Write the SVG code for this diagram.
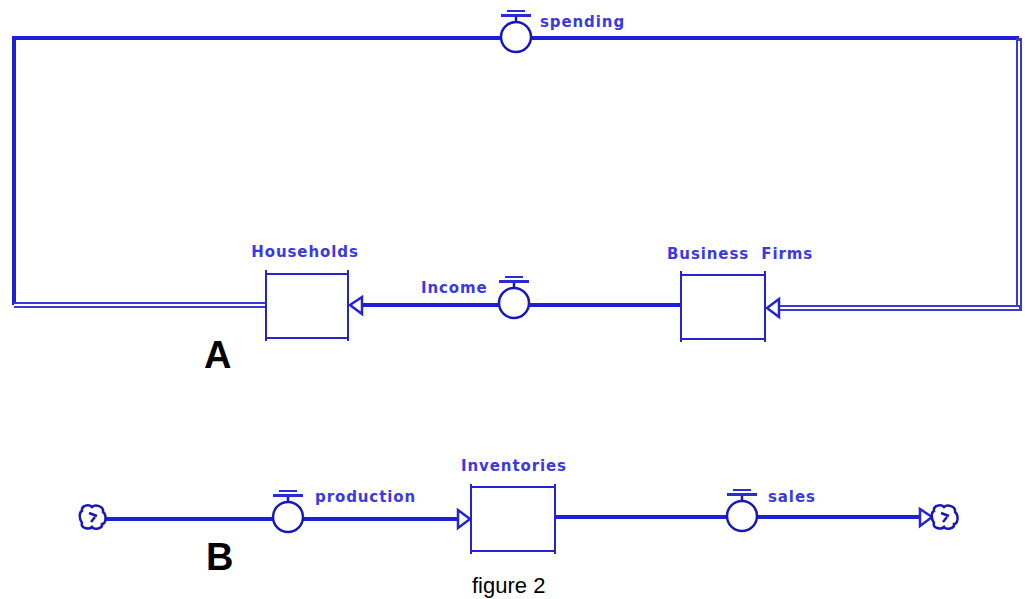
<svg xmlns="http://www.w3.org/2000/svg" width="1025" height="599" viewBox="0 0 1025 599">
<defs>
<style>
.pipe{stroke:#1f1fd6;stroke-width:4;fill:none}
.dbl{stroke:#3a3ad0;stroke-width:6;fill:none}
.dblin{stroke:#fff;stroke-width:2;fill:none}
.flow{stroke:#1f1fd6;stroke-width:4;fill:none}
.box{fill:#fff;stroke:#2424c8;stroke-width:2}
.tick{stroke:#2424c8;stroke-width:2}
.valve{fill:#fff;stroke:#1818b8;stroke-width:2.5}
.bar{fill:#2a2ad8}
.lbl{font-family:"DejaVu Sans",sans-serif;font-weight:bold;font-size:15px;letter-spacing:0.9px;fill:#3a3ae0}
.big{font-family:"Liberation Sans",Arial,sans-serif;font-weight:bold;font-size:38px;fill:#000}
.cap{font-family:"Liberation Sans",Arial,sans-serif;font-size:22px;fill:#000}
.head{fill:#fff;stroke:#2424d0;stroke-width:2.5}
.cloud{fill:#fff;stroke:#1818b8;stroke-width:2.5}
</style>
<g id="valveShape">
<line x1="0" y1="-14" x2="0" y2="-20" stroke="#1818b8" stroke-width="2.5"/>
<rect class="bar" x="-15" y="-23" width="30" height="3"/>
<rect class="bar" x="-9" y="-27" width="18" height="2"/>
<circle class="valve" cx="0" cy="0" r="15"/>
</g>
<path id="cloudShape" class="cloud" d="M-11,-6 C-12,-12 -4,-13 -1,-10 C2,-13 11,-11 10,-5 C14,-2 13,7 9,7 C10,12 1,13 -1,10 C-4,13 -13,11 -11,6 C-14,2 -14,-5 -11,-6 Z M-4,-4 L4,-1 M-2,5 L2,0"/>
</defs>
<g id="connectors">
<polyline class="pipe" points="1019,38 14,38 14,305"/>
<line class="dbl" x1="14" y1="305" x2="265" y2="305"/>
<line class="dblin" x1="14" y1="305" x2="265" y2="305"/>
<line class="dbl" x1="1019" y1="38" x2="1019" y2="308"/>
<line class="dblin" x1="1019" y1="41" x2="1019" y2="308"/>
<line class="dbl" x1="778" y1="308" x2="1022" y2="308"/>
<line class="dblin" x1="778" y1="308" x2="1019" y2="308"/>
<line class="flow" x1="680" y1="305" x2="362" y2="305"/>
<path class="head" d="M362,297 L350,305 L362,314 Z"/>
<path class="head" d="M779,299 L767,308 L779,317 Z"/>
<line class="flow" x1="104" y1="519" x2="460" y2="519"/>
<path class="head" d="M458,510 L470,519 L458,528 Z"/>
<line class="flow" x1="555" y1="517" x2="921" y2="517"/>
<path class="head" d="M920,509 L932,517 L920,526 Z"/>
</g>
<g id="spending"><use href="#valveShape" x="516" y="37"/><text class="lbl" x="540" y="27">spending</text></g>
<g id="income"><use href="#valveShape" x="514" y="303"/><text class="lbl" x="421" y="293">Income</text></g>
<g id="households">
<rect class="box" x="266" y="274" width="82" height="64"/>
<line class="tick" x1="266" y1="270" x2="266" y2="341"/><line class="tick" x1="348" y1="270" x2="348" y2="341"/>
<text class="lbl" x="305" y="257" text-anchor="middle">Households</text>
</g>
<g id="business">
<rect class="box" x="681" y="275" width="84" height="64"/>
<line class="tick" x1="681" y1="271" x2="681" y2="342"/><line class="tick" x1="765" y1="271" x2="765" y2="342"/>
<text class="lbl" x="667" y="259" xml:space="preserve">Business  Firms</text>
</g>
<text class="big" x="204" y="368">A</text>
<g id="source"><use href="#cloudShape" x="93" y="517"/></g>
<g id="production"><use href="#valveShape" x="288" y="517"/><text class="lbl" x="315" y="502">production</text></g>
<g id="inventories">
<rect class="box" x="471" y="487" width="84" height="64"/>
<line class="tick" x1="471" y1="484" x2="471" y2="554"/><line class="tick" x1="555" y1="484" x2="555" y2="554"/>
<text class="lbl" x="514" y="471" text-anchor="middle">Inventories</text>
</g>
<g id="sales"><use href="#valveShape" x="742" y="516"/><text class="lbl" x="768" y="502">sales</text></g>
<g id="sink"><use href="#cloudShape" x="945" y="517"/></g>
<text class="big" x="206" y="570">B</text>
<text class="cap" x="472" y="593">figure 2</text>
</svg>
